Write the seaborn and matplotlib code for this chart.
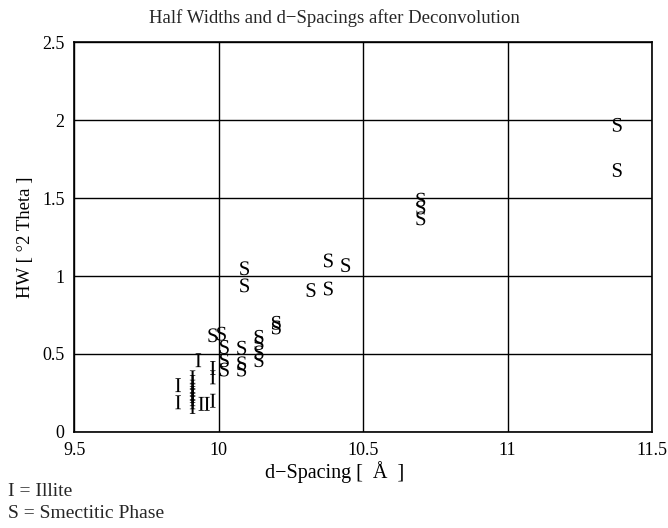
import pandas as pd
import seaborn as sns
import matplotlib.pyplot as plt

# d-spacing (x) and half width (y)
illite_d = [9.93, 9.98, 9.98, 9.86, 9.86,
            9.91, 9.91, 9.91, 9.91, 9.91, 9.91, 9.91, 9.91, 9.91,
            9.94, 9.96, 9.98]
illite_hw = [0.46, 0.41, 0.35, 0.30, 0.19,
             0.35, 0.32, 0.29, 0.27, 0.25, 0.23, 0.21, 0.19, 0.16,
             0.18, 0.18, 0.20]

smectite_d = [11.38, 11.38, 10.70, 10.70, 10.70, 10.38, 10.44, 10.32, 10.38,
              10.09, 10.09, 9.98, 10.01, 10.02, 10.02, 10.02,
              10.08, 10.08, 10.08, 10.14, 10.14, 10.14, 10.14, 10.20, 10.20]
smectite_hw = [1.97, 1.68, 1.49, 1.44, 1.37, 1.10, 1.07, 0.91, 0.92,
               1.05, 0.94, 0.62, 0.63, 0.545, 0.46, 0.40,
               0.54, 0.44, 0.40, 0.61, 0.57, 0.51, 0.46, 0.70, 0.67]

x_ticks = [9.5, 10, 10.5, 11, 11.5]
x_labels = ["9.5", "10", "10.5", "11", "11.5"]
y_ticks = [0, 0.5, 1, 1.5, 2, 2.5]
y_labels = ["0", "0.5", "1", "1.5", "2", "2.5"]

df = pd.DataFrame({
    "d": illite_d + smectite_d,
    "hw": illite_hw + smectite_hw,
    "phase": ["I"] * len(illite_d) + ["S"] * len(smectite_d),
})

sns.set_theme(style="white")
plt.rcParams["font.family"] = ["Liberation Serif", "DejaVu Serif"]
plt.rcParams["mathtext.fontset"] = "custom"
plt.rcParams["mathtext.rm"] = "Liberation Serif"

fig = plt.figure(figsize=(6.68, 5.28), dpi=100)
ax = fig.add_axes([0.111, 0.182, 0.865, 0.738])

sns.scatterplot(data=df, x="d", y="hw", style="phase",
                markers={"I": r"$\mathrm{I}$", "S": r"$\mathrm{S}$"},
                color="black", s=100, linewidth=0, legend=False, ax=ax,
                zorder=3)

ax.set_xlim(9.5, 11.5)
ax.set_ylim(0, 2.5)
ax.set_xticks(x_ticks, x_labels)
ax.set_yticks(y_ticks, y_labels)
ax.grid(True, color="black", linewidth=1)
ax.tick_params(length=0, labelsize=13, pad=7, colors="black")
for sp in ax.spines.values():
    sp.set_color("black")
    sp.set_linewidth(1.2)

ax.set_xlabel("d\u2212Spacing [  \u00c5  ]", fontsize=14.5, color="black")
ax.xaxis.set_label_coords(0.45, -0.075)
ax.set_ylabel("HW [ \u00b02 Theta ]", fontsize=13.5, labelpad=6, color="black")

# title is centred on the figure, not on the axes
fig.text(0.5, 1 - 18 / 528, "Half Widths and d\u2212Spacings after Deconvolution",
         fontsize=13.5, ha="center", va="center")

fig.text(0.012, 1 - 492 / 528, "I = Illite", fontsize=14, va="center")
fig.text(0.012, 1 - 513 / 528, "S = Smectitic Phase", fontsize=14, va="center")

fig.savefig("out.png", dpi=100)
